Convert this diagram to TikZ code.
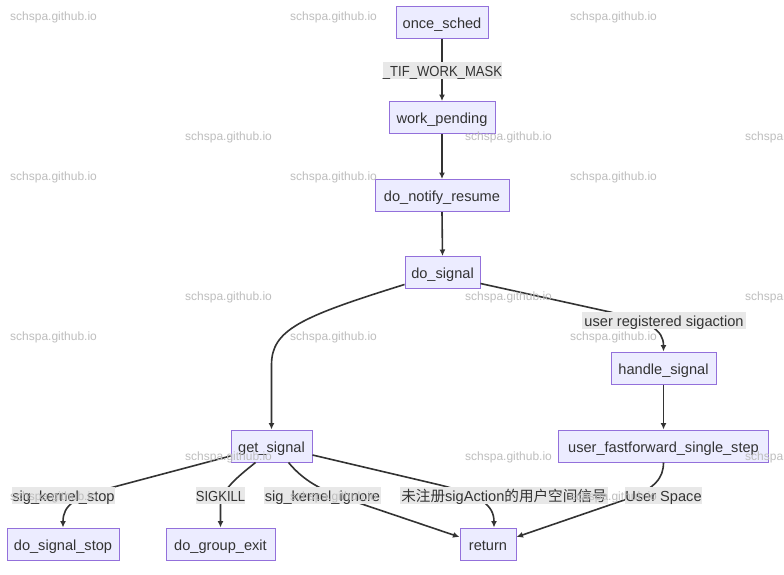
\documentclass[tikz,border=0pt]{standalone}
\usepackage{fontspec}
\usepackage{graphicx}
\setmainfont{Liberation Sans}
\newfontfamily\cjk{Noto Sans CJK SC}[Scale=1.0]
\usetikzlibrary{arrows.meta}
\definecolor{nfill}{RGB}{236,236,255}
\definecolor{nline}{RGB}{147,112,219}
\definecolor{txt}{RGB}{51,51,51}
\definecolor{lbg}{RGB}{232,232,232}
\definecolor{wm}{RGB}{190,190,190}
\begin{document}
\begin{tikzpicture}[x=1pt,y=-1pt,
 box/.style={draw=nline,fill=nfill,line width=1pt,minimum height=32pt,inner sep=0pt,text height=13pt,text depth=1pt,text=txt,font=\fontsize{14.6}{17}\selectfont},
 elabel/.style={fill=lbg,inner sep=0pt,minimum height=17pt,text height=12.5pt,text depth=0.5pt,text=txt,font=\fontsize{14.6}{17}\selectfont},
 edge/.style={draw=txt,line width=1.6pt,-{Latex[length=6.5pt,width=6pt]}},
 wmark/.style={anchor=west,inner sep=0pt,text=wm,font=\fontsize{12}{14}\selectfont}]
\fill[white] (0,0) rectangle (784,574);
\useasboundingbox (0,0) rectangle (784,574);
% nodes
\node[box,minimum width=92pt] (once) at (442,22) {once\_sched};
\node[box,minimum width=106pt] (work) at (442,117.5) {work\_pending};
\node[box,minimum width=134pt] (notify) at (442,195.5) {do\_notify\_resume};
\node[box,minimum width=75pt] (dosig) at (442.5,272.5) {do\_signal};
\node[box,minimum width=105pt] (handle) at (663.5,368) {handle\_signal};
\node[box,minimum width=210pt] (uff) at (663.5,446) {user\_fastforward\_single\_step};
\node[box,minimum width=81pt] (getsig) at (271.5,446) {get\_signal};
\node[box,minimum width=112pt] (dss) at (63,544) {do\_signal\_stop};
\node[box,minimum width=109pt] (dge) at (220.5,544) {do\_group\_exit};
\node[box,minimum width=56pt] (ret) at (488,544) {return};
% edges
\draw[edge] (once.south) -- (work.north);
\draw[edge] (work.south) -- (notify.north);
\draw[edge] (notify.south) -- (dosig.north);
\draw[edge] ([yshift=-12pt]dosig.west) .. controls (300,317) and (271.5,330) .. (271.5,365) -- (getsig.north);
\draw[edge] ([yshift=-11pt]dosig.east) -- (610,312) .. controls (650,322) and (663.5,330) .. (handle.north);
\draw[edge] (handle.south) -- (uff.north);
\draw[edge] ([yshift=-10pt]getsig.west) -- (110,488) .. controls (75,497) and (63,505) .. (dss.north);
\draw[edge] ([xshift=-16pt]getsig.south) .. controls (240,475) and (220.5,490) .. (220.5,505) -- (dge.north);
\draw[edge] ([xshift=17pt]getsig.south) .. controls (303,480) and (320,490) .. (350,500) -- ([yshift=7pt]ret.west);
\draw[edge] ([yshift=-9pt]getsig.east) -- (440,485) .. controls (480,495) and (494,505) .. ([xshift=6pt]ret.north);
\draw[edge] (uff.south) .. controls (663.5,478) and (655,488) .. (630,498) -- ([yshift=7pt]ret.east);
% edge labels
\node[elabel,minimum width=119pt] (l1) at (442.5,70.5) {\scalebox{0.895}[1]{\_TIF\_WORK\_MASK}};
\node[elabel,minimum width=164pt] (l2) at (664,320.5) {user registered sigaction};
\node[elabel,minimum width=103pt] (l3) at (63.5,495) {sig\_kernel\_stop};
\node[elabel,minimum width=49pt] (l4) at (220.5,495) {\scalebox{0.89}[1]{SIGKILL}};
\node[elabel,minimum width=117pt] (l5) at (322.5,495) {sig\_kernel\_ignore};
\node[elabel,minimum width=208pt] (l6) at (504,495) {{\cjk 未注册}sigAction{\cjk 的用户空间信号}};
\node[elabel,minimum width=71pt] (l7) at (663.5,495) {User Space};
% watermarks
\foreach \yy in {17,177,337,497} {
  \foreach \xx in {10,290,570} {
    \node[wmark] at (\xx,\yy) {schspa.github.io};
  }
}
\foreach \yy in {137,297,457} {
  \foreach \xx in {185,465,745} {
    \node[wmark] at (\xx,\yy) {schspa.github.io};
  }
}
\end{tikzpicture}
\end{document}
